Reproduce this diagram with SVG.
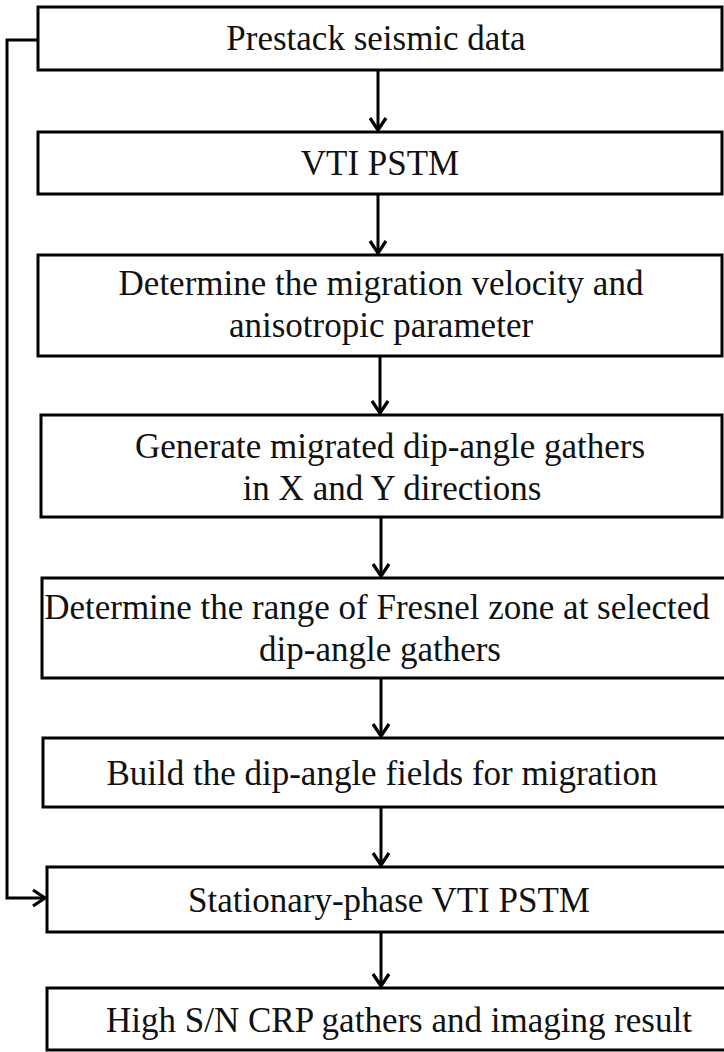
<svg xmlns="http://www.w3.org/2000/svg" width="724" height="1052" viewBox="0 0 724 1052">
<style>
.box{fill:#fff;stroke:#000;stroke-width:3}
.t{font-family:"Liberation Serif","Times New Roman",serif;font-size:35px;fill:#111;text-anchor:middle}
.c{fill:none;stroke:#000;stroke-width:3}
</style>
<defs>
<marker id="chev" markerUnits="userSpaceOnUse" viewBox="-16 -12 20 24" refX="0" refY="0" markerWidth="20" markerHeight="24" orient="auto">
<path d="M-12,-8 L0,0 L-12,8" fill="none" stroke="#000" stroke-width="3.2"/>
</marker>
</defs>
<rect width="724" height="1052" fill="#fff"/>
<g id="n1"><rect class="box" x="38" y="7" width="684" height="63"/><text class="t" x="376" y="50">Prestack seismic data</text></g>
<g id="n2"><rect class="box" x="38" y="132" width="684" height="62"/><text class="t" x="380" y="175">VTI PSTM</text></g>
<g id="n3"><rect class="box" x="38" y="255" width="684" height="101"/><text class="t" x="381" y="295">Determine the migration velocity and</text><text class="t" x="381" y="337">anisotropic parameter</text></g>
<g id="n4"><rect class="box" x="41" y="415" width="681" height="102"/><text class="t" x="390" y="458">Generate migrated dip-angle gathers</text><text class="t" x="392" y="500">in X and Y directions</text></g>
<g id="n5"><rect class="box" x="42" y="578" width="690" height="100"/><text class="t" x="377" y="619">Determine the range of Fresnel zone at selected</text><text class="t" x="380" y="661">dip-angle gathers</text></g>
<g id="n6"><rect class="box" x="43" y="738" width="690" height="69"/><text class="t" x="382" y="785">Build the dip-angle fields for migration</text></g>
<g id="n7"><rect class="box" x="47" y="867" width="690" height="65"/><text class="t" x="389" y="912">Stationary-phase VTI PSTM</text></g>
<g id="n8"><rect class="box" x="47" y="988" width="690" height="62"/><text class="t" x="399" y="1032">High S/N CRP gathers and imaging result</text></g>
<g id="connectors">
<path class="c" d="M378,70 V130" marker-end="url(#chev)"/>
<path class="c" d="M378,194 V253" marker-end="url(#chev)"/>
<path class="c" d="M380,356 V413" marker-end="url(#chev)"/>
<path class="c" d="M381,517 V576" marker-end="url(#chev)"/>
<path class="c" d="M381,678 V736" marker-end="url(#chev)"/>
<path class="c" d="M381,807 V865" marker-end="url(#chev)"/>
<path class="c" d="M381,932 V986" marker-end="url(#chev)"/>
<path class="c" d="M38,40 H7 V898 H45" marker-end="url(#chev)"/>
</g>
</svg>
